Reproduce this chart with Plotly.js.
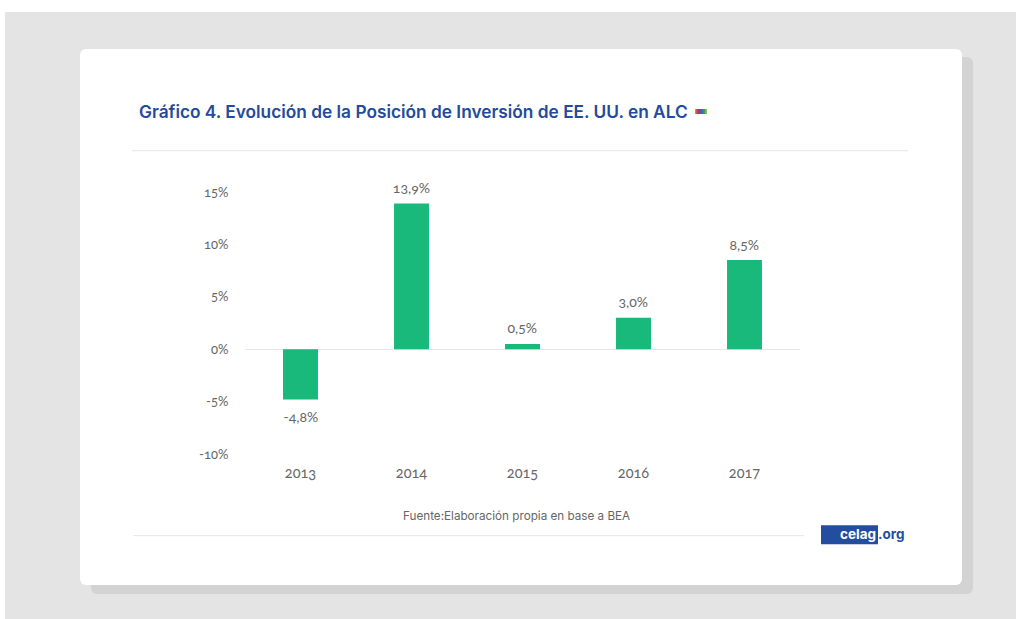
<!DOCTYPE html>
<html>
<head>
<meta charset="utf-8">
<script src="https://cdn.plot.ly/plotly-3.0.1.min.js"></script>
<style>
html,body{margin:0;padding:0;background:#fff;width:1016px;height:619px;overflow:hidden}
.box{position:absolute}
#bg{left:5px;top:12px;width:1011px;height:607px;background:#e4e4e4}
#shadow{left:91px;top:57px;width:882px;height:537px;background:#d3d3d3;border-radius:6px}
#card{left:80px;top:49px;width:882px;height:536px;background:#fff;border-radius:6px}
#icon{left:695px;top:109px;width:12px;height:5px;background:linear-gradient(90deg,#e0a020,#d03a40,#7a3fb0,#2f6fc0,#30a860,#d8c030)}
#chart{left:0;top:0;width:1016px;height:619px}
#chart text{font-variant-numeric:oldstyle-nums;font-feature-settings:"onum"}
</style>
</head>
<body>
<div class="box" id="bg"></div>
<div class="box" id="shadow"></div>
<div class="box" id="card"></div>
<div class="box" id="icon"></div>
<div class="box" id="chart"></div>
<script>
const categories = ['2013', '2014', '2015', '2016', '2017'];
const values = [-4.8, 13.9, 0.5, 3.0, 8.5];
const valueLabels = ['-4,8%', '13,9%', '0,5%', '3,0%', '8,5%'];
const yTicks = [-10, -5, 0, 5, 10, 15];
const yTickLabels = ['-10%', '-5%', '0%', '5%', '10%', '15%'];
const titleText = 'Gráfico 4. Evolución de la Posición de Inversión de EE. UU. en ALC';
const sourceText = 'Fuente:Elaboración propia en base a BEA';

const W = 1016, H = 619;
const m = {l: 245, r: W - 800, t: 191.5, b: H - 454.5};
const px = x => (x - m.l) / (W - m.l - m.r);
const py = y => 1 - (y - m.t) / (H - m.t - m.b);
const hline = (x0, x1, y) => ({type: 'line', xref: 'paper', yref: 'paper',
  x0: px(x0), x1: px(x1), y0: py(y), y1: py(y), line: {color: '#e6e6e6', width: 1}});
const note = (x, y, text, opts) => Object.assign({xref: 'paper', yref: 'paper', x: px(x), y: py(y),
  text, showarrow: false, xanchor: 'left', yanchor: 'middle'}, opts);
const valueNotes = categories.map((c, i) => ({
  xref: 'x', yref: 'y', x: i, y: values[i], text: valueLabels[i], showarrow: false,
  yanchor: values[i] < 0 ? 'top' : 'bottom', yshift: values[i] < 0 ? -6 : 5.5,
  font: {family: 'Lato, sans-serif', size: 14, color: '#666666'}
}));

Plotly.newPlot('chart', [{
  type: 'bar',
  x: categories,
  y: values,
  width: 0.315,
  marker: {color: '#18b97a'},
  hoverinfo: 'skip'
}], {
  width: W,
  height: H,
  margin: m,
  paper_bgcolor: 'rgba(0,0,0,0)',
  plot_bgcolor: 'rgba(0,0,0,0)',
  showlegend: false,
  font: {family: 'Lato, sans-serif', color: '#666666', size: 13.5},
  xaxis: {type: 'category', range: [-0.5, 4.5], showgrid: false, showline: false, zeroline: false,
    ticks: 'outside', ticklen: 6, tickcolor: 'rgba(0,0,0,0)', tickfont: {size: 14.5, color: '#666666'}},
  yaxis: {range: [-10, 15], tickvals: yTicks, ticktext: yTickLabels, showgrid: false, showline: false,
    zeroline: true, zerolinecolor: '#e6e6e6', zerolinewidth: 1,
    ticks: 'outside', ticklen: 13, tickcolor: 'rgba(0,0,0,0)', tickfont: {size: 13, color: '#666666'}},
  shapes: [hline(132, 908, 150), hline(133, 804, 536.5),
    {type: 'rect', xref: 'paper', yref: 'paper', x0: px(821), x1: px(878), y0: py(526), y1: py(545),
     fillcolor: '#234ea0', line: {width: 0}}],
  annotations: valueNotes.concat([
    note(137, 111, titleText, {font: {family: 'Inter, sans-serif', size: 17.3, color: '#234a9c', weight: 600}}),
    note(401, 517, sourceText, {font: {family: 'Inter, sans-serif', size: 11.7, color: '#666666'}}),
    note(838, 535, 'celag', {font: {family: 'Inter, sans-serif', size: 13.5, color: '#ffffff', weight: 700}}),
    note(876, 535, '.org', {font: {family: 'Inter, sans-serif', size: 13.5, color: '#234ea0', weight: 700}})
  ])
}, {displayModeBar: false, staticPlot: true});
</script>
</body>
</html>
